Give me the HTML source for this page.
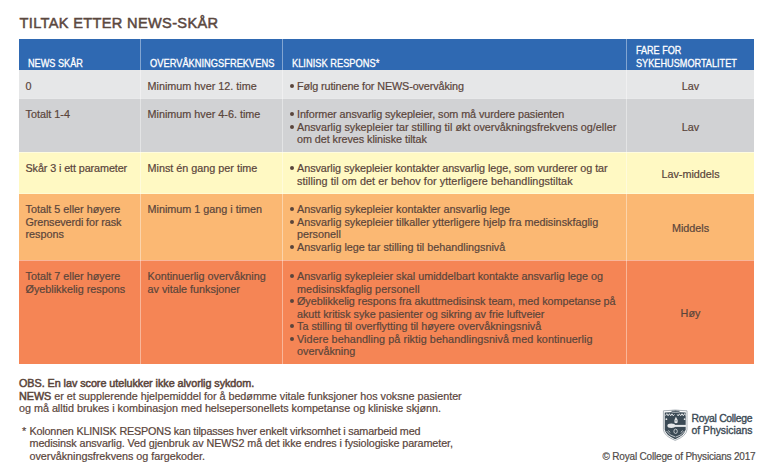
<!DOCTYPE html>
<html><head><meta charset="utf-8">
<style>
html,body{margin:0;padding:0;background:#fff;width:768px;height:474px;overflow:hidden;position:relative}
body{font-family:"Liberation Sans",sans-serif;color:#5a453b}
.a{position:absolute;white-space:nowrap}
.title{left:19.5px;top:12.5px;font-size:14.6px;line-height:20px;color:#5b483f;-webkit-text-stroke:0.5px #5b483f;letter-spacing:0.33px}
.row{position:absolute;left:19px;width:735px}
.vl{position:absolute;top:39px;height:325px;width:1px;background:rgba(255,255,255,0.4)}
.sep{position:absolute;left:19px;width:735px;height:1px;background:#fff}
.hd{transform-origin:0 0;color:#fff;font-size:10.4px;line-height:12.9px;-webkit-text-stroke:0.3px #fff}
.t{font-size:10.8px;line-height:12.5px;-webkit-text-stroke:0.2px #5a453b}
.c4{left:627px;width:127px;text-align:center}
.dot{position:absolute;width:4px;height:4px;border-radius:50%;background:#5a453b}
.rcp{font-size:10.4px;line-height:12.1px;color:#3b4a55;-webkit-text-stroke:0.35px #3b4a55}
.bd{-webkit-text-stroke:0.5px #5a453b}
</style></head><body>
<div class="a title">TILTAK ETTER NEWS-SKÅR</div>
<div class="row" style="top:39px;height:31px;background:#2f69b2"></div>
<div class="row" style="top:70px;height:28px;background:#e6e7e8"></div>
<div class="row" style="top:98px;height:54px;background:#d1d2d4"></div>
<div class="row" style="top:152px;height:42px;background:#fff9c3"></div>
<div class="row" style="top:194px;height:66px;background:#fbb873"></div>
<div class="row" style="top:260px;height:104px;background:#f58555"></div>
<div class="sep" style="top:98px;opacity:0.5"></div>
<div class="sep" style="top:152px;opacity:0.45"></div>
<div class="sep" style="top:193px;opacity:0.3"></div>
<div class="sep" style="top:259.8px;opacity:0.4"></div>
<div class="vl" style="left:140px"></div>
<div class="vl" style="left:282px"></div>
<div class="vl" style="left:626px"></div>
<div class="a hd" style="left:28px;top:58.00px;transform:scaleX(0.881)">NEWS SKÅR</div>
<div class="a hd" style="left:149.5px;top:58.00px;transform:scaleX(0.895)">OVERVÅKNINGSFREKVENS</div>
<div class="a hd" style="left:291.5px;top:58.00px;transform:scaleX(0.895)">KLINISK RESPONS*</div>
<div class="a hd" style="left:635.5px;top:45.10px;transform:scaleX(0.872)">FARE FOR</div>
<div class="a hd" style="left:635.5px;top:58.00px;transform:scaleX(0.881)">SYKEHUSMORTALITET</div>
<div class="a t" style="left:25.5px;top:80.00px">0</div>
<div class="a t" style="left:147.5px;top:80.00px">Minimum hver 12. time</div>
<div class="dot" style="left:289.8px;top:84.00px"></div>
<div class="a t" style="left:297px;top:80.00px;letter-spacing:-0.11px">Følg rutinene for NEWS-overvåking</div>
<div class="a t c4" style="top:80px">Lav</div>
<div class="a t" style="left:25.5px;top:108.00px">Totalt 1-4</div>
<div class="a t" style="left:147.5px;top:108.00px">Minimum hver 4-6. time</div>
<div class="dot" style="left:289.8px;top:112.00px"></div>
<div class="a t" style="left:297px;top:108.00px;letter-spacing:-0.075px">Informer ansvarlig sykepleier, som må vurdere pasienten</div>
<div class="dot" style="left:289.8px;top:124.50px"></div>
<div class="a t" style="left:297px;top:120.50px">Ansvarlig sykepleier tar stilling til økt overvåkningsfrekvens og/eller</div>
<div class="a t" style="left:297px;top:133.00px;letter-spacing:-0.055px">om det kreves kliniske tiltak</div>
<div class="a t c4" style="top:120.5px">Lav</div>
<div class="a t" style="left:25.5px;top:162.00px;letter-spacing:-0.1px">Skår 3 i ett parameter</div>
<div class="a t" style="left:147.5px;top:162.00px">Minst én gang per time</div>
<div class="dot" style="left:289.8px;top:166.00px"></div>
<div class="a t" style="left:297px;top:162.00px;letter-spacing:-0.04px">Ansvarlig sykepleier kontakter ansvarlig lege, som vurderer og tar</div>
<div class="a t" style="left:297px;top:174.50px;letter-spacing:0.07px">stilling til om det er behov for ytterligere behandlingstiltak</div>
<div class="a t c4" style="top:168px">Lav-middels</div>
<div class="a t" style="left:25.5px;top:203.00px">Totalt 5 eller høyere</div>
<div class="a t" style="left:25.5px;top:215.50px;letter-spacing:-0.1px">Grenseverdi for rask</div>
<div class="a t" style="left:25.5px;top:228.00px">respons</div>
<div class="a t" style="left:147.5px;top:203.00px">Minimum 1 gang i timen</div>
<div class="dot" style="left:289.8px;top:207.00px"></div>
<div class="a t" style="left:297px;top:203.00px">Ansvarlig sykepleier kontakter ansvarlig lege</div>
<div class="dot" style="left:289.8px;top:219.50px"></div>
<div class="a t" style="left:297px;top:215.50px">Ansvarlig sykepleier tilkaller ytterligere hjelp fra medisinskfaglig</div>
<div class="a t" style="left:297px;top:228.00px">personell</div>
<div class="dot" style="left:289.8px;top:244.50px"></div>
<div class="a t" style="left:297px;top:240.50px">Ansvarlig lege tar stilling til behandlingsnivå</div>
<div class="a t c4" style="top:222px">Middels</div>
<div class="a t" style="left:25.5px;top:270.00px">Totalt 7 eller høyere</div>
<div class="a t" style="left:25.5px;top:282.50px">Øyeblikkelig respons</div>
<div class="a t" style="left:147.5px;top:270.00px">Kontinuerlig overvåkning</div>
<div class="a t" style="left:147.5px;top:282.50px">av vitale funksjoner</div>
<div class="dot" style="left:289.8px;top:274.00px"></div>
<div class="a t" style="left:297px;top:270.00px">Ansvarlig sykepleier skal umiddelbart kontakte ansvarlig lege og</div>
<div class="a t" style="left:297px;top:282.50px;letter-spacing:0.08px">medisinskfaglig personell</div>
<div class="dot" style="left:289.8px;top:299.00px"></div>
<div class="a t" style="left:297px;top:295.00px;letter-spacing:-0.03px">Øyeblikkelig respons fra akuttmedisinsk team, med kompetanse på</div>
<div class="a t" style="left:297px;top:307.50px;letter-spacing:-0.03px">akutt kritisk syke pasienter og sikring av frie luftveier</div>
<div class="dot" style="left:289.8px;top:324.00px"></div>
<div class="a t" style="left:297px;top:320.00px">Ta stilling til overflytting til høyere overvåkningsnivå</div>
<div class="dot" style="left:289.8px;top:336.50px"></div>
<div class="a t" style="left:297px;top:332.50px;letter-spacing:0.077px">Videre behandling på riktig behandlingsnivå med kontinuerlig</div>
<div class="a t" style="left:297px;top:345.00px">overvåkning</div>
<div class="a t c4" style="top:307px">Høy</div>
<div class="a t" style="left:19px;top:377.00px;letter-spacing:-0.05px"><span class="bd">OBS. En lav score utelukker ikke alvorlig sykdom.</span></div>
<div class="a t" style="left:19px;top:389.50px;letter-spacing:-0.03px"><span class="bd">NEWS</span> er et supplerende hjelpemiddel for å bedømme vitale funksjoner hos voksne pasienter</div>
<div class="a t" style="left:19px;top:402.00px;letter-spacing:-0.02px">og må alltid brukes i kombinasjon med helsepersonellets kompetanse og kliniske skjønn.</div>
<div class="a t" style="left:22px;top:424.5px">*</div>
<div class="a t" style="left:29.5px;top:424.50px;letter-spacing:-0.185px">Kolonnen KLINISK RESPONS kan tilpasses hver enkelt virksomhet i samarbeid med</div>
<div class="a t" style="left:29.5px;top:437.00px;letter-spacing:-0.1px">medisinsk ansvarlig. Ved gjenbruk av NEWS2 må det ikke endres i fysiologiske parameter,</div>
<div class="a t" style="left:29.5px;top:449.50px;letter-spacing:-0.03px">overvåkningsfrekvens og fargekoder.</div>
<svg class="a" style="left:660px;top:407px" width="32" height="36" viewBox="0 0 32 36">
<path d="M3.4 3.8 Q15.2 2.4 27 3.8 L27 22.5 Q26.4 29 15.2 33.4 Q4 29 3.4 22.5 Z" fill="#fff" stroke="#a9b0b6" stroke-width="1"/>
<path d="M4.7 5.6 Q15.2 4.6 25.7 5.6 L25.7 22.3 Q25.1 28 15.2 32.2 Q5.3 28 4.7 22.3 Z" fill="#3b4a55"/>
<ellipse cx="15.6" cy="4.3" rx="4.4" ry="1.2" fill="#56636d" stroke="#c9cdd1" stroke-width="0.7"/>
<g fill="none" stroke="#dfe2e5" stroke-width="0.8">
<polyline points="5.6,8.6 6.8,6.6 8.1,8.8 9.4,6.7 10.7,8.8 12,6.8 13.3,8.9 14.4,7.4" stroke-width="1"/>
<polyline points="17.2,7.4 18.1,8.9 19.4,6.8 20.7,8.8 22,6.7 23.3,8.8 24.6,6.6 25.4,8.4" stroke-width="1"/>
<ellipse cx="15.6" cy="24.3" rx="1.7" ry="2.2"/>
<path d="M6.5 24 Q9.5 28.8 15.4 30"/><path d="M24.5 24 Q21.5 28.8 15.8 30"/>
<path d="M8.5 23.5 L10 25.5 M22.5 23.5 L21 25.5"/>
</g>
<g fill="#e6e8ea">
<circle cx="6.4" cy="12.2" r="0.9"/><circle cx="24.6" cy="12.2" r="0.9"/>
<path d="M15.9 9.8 Q18.2 12.8 17.6 15.6 Q16 17 14.4 15.6 Q14 12.8 15.9 9.8 Z"/>
<ellipse cx="11.3" cy="18.7" rx="3.9" ry="2.2"/>
<rect x="11" y="17.9" width="15" height="2"/>
<path d="M15.6 26.5 L15.6 31"/>
</g>
<circle cx="16" cy="13.8" r="0.8" fill="#8a949c"/>
</svg>
<div class="a rcp" style="left:691.5px;top:413px;letter-spacing:-0.3px">Royal College</div>
<div class="a rcp" style="left:691.5px;top:425.1px;letter-spacing:-0.02px">of Physicians</div>
<div class="a" style="left:602.5px;top:450.7px;font-size:10px;line-height:12px;color:#514c4a;-webkit-text-stroke:0.2px #514c4a;letter-spacing:-0.18px">© Royal College of Physicians 2017</div>
</body></html>
